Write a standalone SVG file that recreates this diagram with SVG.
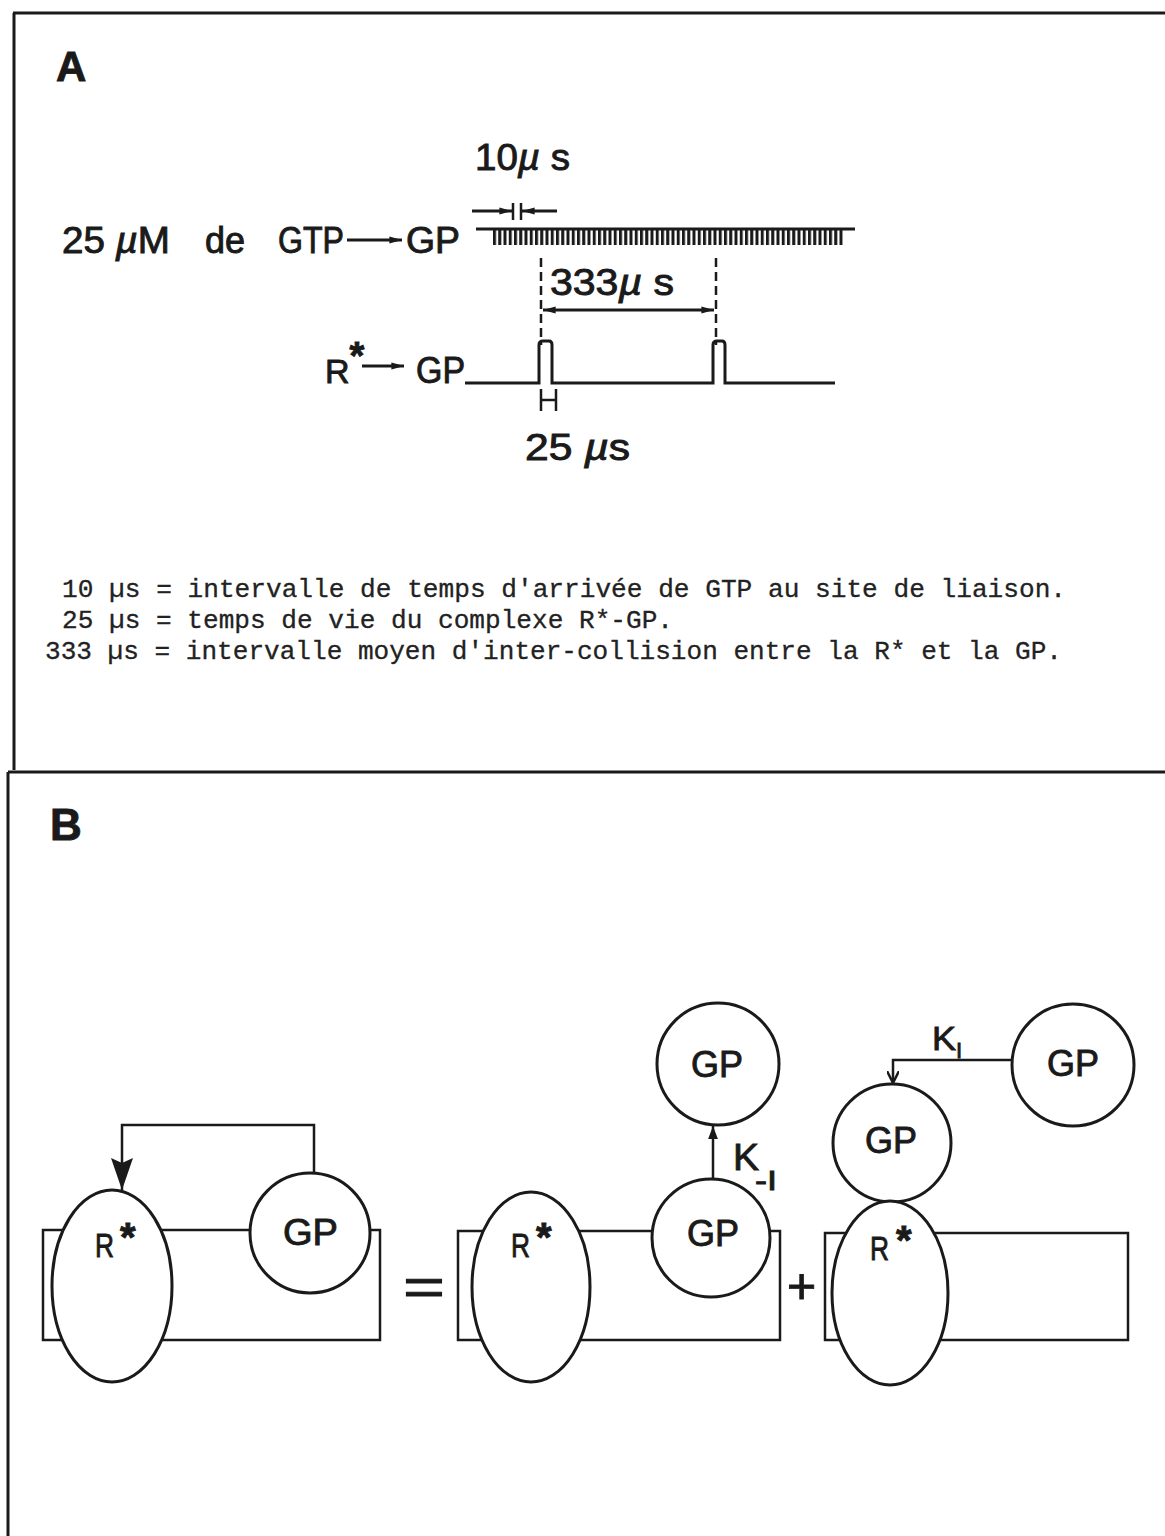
<svg xmlns="http://www.w3.org/2000/svg" width="1165" height="1536" viewBox="0 0 1165 1536">
<style>
.frame{stroke:#1a1a1a;stroke-width:3;fill:none}
.lbl{font-family:"Liberation Sans",Arial,sans-serif;fill:#1a1a1a;stroke:#1a1a1a;stroke-width:0.9}
.mu{font-style:italic}
.mono{font-family:"Liberation Mono","Courier New",monospace;font-size:26px;fill:#222;stroke:#222;stroke-width:0.3}
.ln{stroke:#1a1a1a;stroke-width:3;fill:none}
.thin{stroke:#1a1a1a;stroke-width:2.5;fill:none}
.shape{stroke:#1a1a1a;stroke-width:3;fill:#fff}
.dash{stroke:#1a1a1a;stroke-width:2.5;stroke-dasharray:9 5;fill:none}
</style>
<defs>
<marker id="ah" viewBox="0 0 14 10" refX="14" refY="5" markerWidth="14" markerHeight="9" markerUnits="userSpaceOnUse" orient="auto-start-reverse"><path d="M0,1 L14,5 L0,9 Z" fill="#1a1a1a"/></marker>
<marker id="ahs" viewBox="0 0 12 10" refX="12" refY="5" markerWidth="13" markerHeight="11" markerUnits="userSpaceOnUse" orient="auto-start-reverse"><path d="M0,0.5 L12,5 L0,9.5 Z" fill="#1a1a1a"/></marker>
<marker id="ahbig" viewBox="0 0 32 22" refX="32" refY="11" markerWidth="32" markerHeight="22" markerUnits="userSpaceOnUse" orient="auto"><path d="M0,0 L5,11 L0,22 L32,11 Z" fill="#1a1a1a"/></marker>
<marker id="ahv" viewBox="0 0 12 12" refX="12" refY="6" markerWidth="12" markerHeight="12" markerUnits="userSpaceOnUse" orient="auto"><path d="M0,0 L12,6 L0,12" fill="none" stroke="#1a1a1a" stroke-width="2.5"/></marker>
<pattern id="ticks" patternUnits="userSpaceOnUse" x="493" y="230" width="5.25" height="16"><rect x="0" y="0" width="3" height="16" fill="#1a1a1a"/></pattern>
</defs>
<rect width="1165" height="1536" fill="#fff"/>

<g id="frame">
<path class="frame" d="M13,13 H1165 M14,13 V770 M8,772 H1165 M8,772 V1536"/>
</g>

<!-- Panel A -->
<g id="panelA">
<text class="lbl" x="56" y="81" font-size="42" font-weight="bold">A</text>

<g id="gtp-label">
<text class="lbl" x="62" y="253" font-size="36" textLength="108" lengthAdjust="spacingAndGlyphs">25 <tspan class="mu">µ</tspan>M</text>
<text class="lbl" x="205" y="253" font-size="36" textLength="40" lengthAdjust="spacingAndGlyphs">de</text>
<text class="lbl" x="278" y="253" font-size="36" textLength="66" lengthAdjust="spacingAndGlyphs">GTP</text>
<text class="lbl" x="406" y="253" font-size="36" textLength="54" lengthAdjust="spacingAndGlyphs">GP</text>
</g>

<g id="label-10us">
<text class="lbl" x="475" y="170" font-size="36" textLength="95" lengthAdjust="spacingAndGlyphs">10<tspan class="mu">µ</tspan> s</text>
</g>

<g id="comb">
<line class="ln" x1="476" y1="229" x2="855" y2="229"/>
<rect x="493" y="230" width="350" height="15" fill="url(#ticks)"/>
</g>

<g id="dim-10us">
<line class="ln" x1="472" y1="211" x2="512" y2="211" marker-end="url(#ah)"/>
<line class="ln" x1="557" y1="211" x2="522" y2="211" marker-end="url(#ah)"/>
<line class="thin" x1="513" y1="203" x2="513" y2="220"/>
<line class="thin" x1="521" y1="203" x2="521" y2="220"/>
</g>

<g id="dim-333us">
<line class="dash" x1="541" y1="258" x2="541" y2="345"/>
<line class="dash" x1="716" y1="258" x2="716" y2="345"/>
<line class="ln" x1="543" y1="310" x2="714" y2="310" marker-start="url(#ah)" marker-end="url(#ah)"/>
<text class="lbl" x="550" y="295" font-size="36" textLength="124" lengthAdjust="spacingAndGlyphs">333<tspan class="mu">µ</tspan> s</text>
</g>

<g id="rgp-label">
<text class="lbl" x="325" y="383" font-size="34">R<tspan dy="-14" font-size="38" font-weight="bold">*</tspan></text>
<text class="lbl" x="416" y="383" font-size="36" textLength="49" lengthAdjust="spacingAndGlyphs">GP</text>
</g>

<g id="pulse">
<path class="ln" d="M465,383 H539 V345 Q539,341 543,341 H549 Q552,341 552,345 V383 H713 V345 Q713,341 717,341 H722 Q725,341 725,345 V383 H835"/>
<path class="thin" d="M541,389 V411 M556,389 V411 M541,400 H556"/>
<text class="lbl" x="525" y="460" font-size="36" textLength="105" lengthAdjust="spacingAndGlyphs">25 <tspan class="mu">µ</tspan>s</text>
</g>

<g id="legend">
<text class="mono" x="62" y="597" textLength="1004" lengthAdjust="spacingAndGlyphs">10 µs = intervalle de temps d'arrivée de GTP au site de liaison.</text>
<text class="mono" x="62" y="628" textLength="611" lengthAdjust="spacingAndGlyphs">25 µs = temps de vie du complexe R*-GP.</text>
<text class="mono" x="45" y="659" textLength="1017" lengthAdjust="spacingAndGlyphs">333 µs = intervalle moyen d'inter-collision entre la R* et la GP.</text>
</g>
</g>

<!-- Panel B -->
<g id="panelB">
<text class="lbl" x="50" y="840" font-size="44" font-weight="bold">B</text>

<g id="left-complex">
<rect class="thin" x="43" y="1230" width="337" height="110"/>
<ellipse class="shape" cx="112" cy="1286" rx="60" ry="96"/>
<circle class="shape" cx="310" cy="1233" r="60"/>
<text class="lbl" x="95" y="1257" font-size="34" textLength="19" lengthAdjust="spacingAndGlyphs">R</text>
<text class="lbl" x="120" y="1251" font-size="40" font-weight="bold">*</text>
<text class="lbl" x="283" y="1245" font-size="36" textLength="55" lengthAdjust="spacingAndGlyphs">GP</text>
</g>

<text class="lbl" x="403" y="1305" font-size="52" textLength="42" lengthAdjust="spacingAndGlyphs">=</text>

<g id="middle-complex">
<rect class="thin" x="458" y="1231" width="322" height="109"/>
<ellipse class="shape" cx="531" cy="1287" rx="59" ry="95"/>
<circle class="shape" cx="711" cy="1238" r="59"/>
<text class="lbl" x="511" y="1257" font-size="34" textLength="19" lengthAdjust="spacingAndGlyphs">R</text>
<text class="lbl" x="536" y="1251" font-size="40" font-weight="bold">*</text>
<text class="lbl" x="687" y="1246" font-size="36" textLength="52" lengthAdjust="spacingAndGlyphs">GP</text>
</g>
<g id="middle-gp-free">
<circle class="shape" cx="718" cy="1064" r="61"/>
<text class="lbl" x="691" y="1077" font-size="36" textLength="52" lengthAdjust="spacingAndGlyphs">GP</text>
</g>
<g id="label-k-1">
<text class="lbl" x="733" y="1170" font-size="36" textLength="26" lengthAdjust="spacingAndGlyphs">K</text>
<text class="lbl" x="755" y="1190" font-size="28" textLength="22" lengthAdjust="spacingAndGlyphs">-I</text>
</g>

<text class="lbl" x="787" y="1303" font-size="50">+</text>

<g id="right-complex">
<rect class="thin" x="825" y="1233" width="303" height="107"/>
<circle class="shape" cx="892" cy="1143" r="59"/>
<ellipse class="shape" cx="890" cy="1293" rx="58" ry="92"/>
<text class="lbl" x="870" y="1260" font-size="34" textLength="19" lengthAdjust="spacingAndGlyphs">R</text>
<text class="lbl" x="896" y="1254" font-size="40" font-weight="bold">*</text>
<text class="lbl" x="865" y="1153" font-size="36" textLength="52" lengthAdjust="spacingAndGlyphs">GP</text>
</g>
<g id="right-gp-free">
<circle class="shape" cx="1073" cy="1065" r="61"/>
<text class="lbl" x="1047" y="1076" font-size="36" textLength="52" lengthAdjust="spacingAndGlyphs">GP</text>
</g>
<g id="label-k1">
<text class="lbl" x="932" y="1050" font-size="34" textLength="24" lengthAdjust="spacingAndGlyphs">K</text>
<text class="lbl" x="956" y="1058" font-size="22">I</text>
</g>
</g>

<g id="connectors">
<line class="ln" x1="347" y1="240" x2="402" y2="240" marker-end="url(#ah)"/>
<line class="ln" x1="362" y1="366" x2="404" y2="366" marker-end="url(#ah)"/>
<path class="thin" d="M314,1173 V1125 H122 V1190" marker-end="url(#ahbig)"/>
<line class="thin" x1="713" y1="1179" x2="713" y2="1126" marker-end="url(#ahs)"/>
<path class="thin" d="M1012,1060 H893 V1083" marker-end="url(#ahv)"/>
</g>
</svg>
